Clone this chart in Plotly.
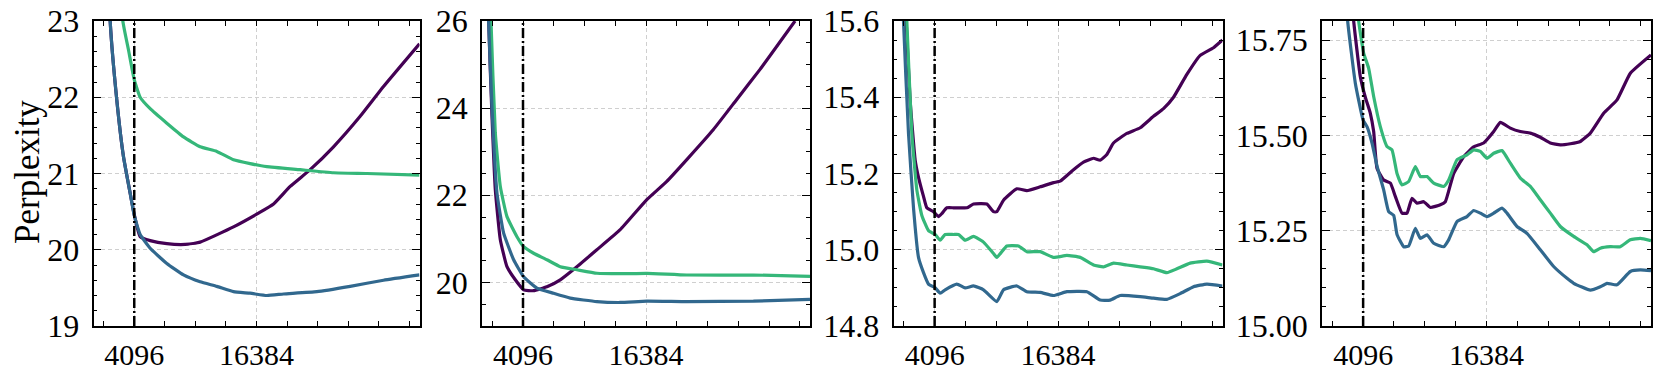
import plotly.graph_objects as go

# ---------------- data ----------------
# Panel 1
p1_purple_x = [1024, 1675, 2345, 3015, 3686, 4096, 4690, 5696, 7371, 9214, 10720, 14072, 16585, 18100, 19767, 21779, 24124, 26805, 29150, 32768]
p1_purple_y = [26.0, 23.0, 21.96, 21.22, 20.74, 20.46, 20.17, 20.12, 20.08, 20.07, 20.1, 20.3, 20.48, 20.6, 20.83, 21.05, 21.35, 21.75, 22.14, 22.7]
p1_blue_x = [1024, 1675, 2345, 3015, 3686, 4096, 4690, 5696, 7371, 9046, 10720, 12397, 14072, 15747, 17422, 19097, 22448, 25798, 29150, 32768]
p1_blue_y = [26.0, 23.0, 21.96, 21.22, 20.74, 20.45, 20.2, 20.02, 19.82, 19.67, 19.58, 19.52, 19.45, 19.43, 19.4, 19.42, 19.45, 19.52, 19.6, 19.67]
p1_green_x = [2000, 2948, 3518, 4096, 4690, 5696, 7371, 9046, 10720, 12397, 14072, 15747, 17422, 20773, 24124, 27475, 32768]
p1_green_y = [25.0, 23.0, 22.62, 22.23, 22.0, 21.85, 21.66, 21.48, 21.35, 21.29, 21.18, 21.13, 21.09, 21.05, 21.01, 21.0, 20.98]

# Panel 2
p2_purple_x = [300, 665, 1000, 1330, 1830, 2495, 3327, 4158, 5156, 6487, 7818, 9481, 11477, 13806, 16467, 18463, 20459, 23121, 25450, 27777, 31271]
p2_purple_y = [32.0, 26.0, 23.81, 22.13, 20.98, 20.36, 20.06, 19.83, 19.81, 19.9, 20.06, 20.36, 20.75, 21.21, 21.9, 22.32, 22.82, 23.51, 24.2, 24.89, 26.0]
p2_blue_x = [300, 665, 1000, 1497, 2162, 3160, 4158, 5489, 7152, 8815, 11477, 13806, 16467, 20459, 27112, 32768]
p2_blue_y = [32.0, 26.0, 24.0, 22.05, 21.13, 20.52, 20.13, 19.87, 19.75, 19.64, 19.56, 19.54, 19.57, 19.56, 19.57, 19.61]
p2_green_x = [400, 898, 1330, 1830, 2495, 3493, 4158, 5156, 6487, 7818, 9481, 11477, 13806, 16467, 20459, 27112, 32768]
p2_green_y = [32.0, 26.0, 23.43, 22.2, 21.51, 21.05, 20.82, 20.67, 20.52, 20.36, 20.29, 20.21, 20.2, 20.21, 20.17, 20.17, 20.14]

# Panel 3
p3_purple_x = [600, 1262, 1660, 2158, 2490, 2988, 3320, 3984, 4482, 4814, 5312, 5976, 6640, 7304, 7968, 9296, 9960, 10292, 10956, 12285, 13280, 14610, 15938, 16600, 17928, 18924, 19920, 20584, 21248, 21912, 23240, 24568, 25897, 26893, 27890, 29218, 30547, 31875, 32768]
p3_purple_y = [16.2, 15.6, 15.39, 15.235, 15.19, 15.14, 15.11, 15.10, 15.087, 15.095, 15.11, 15.11, 15.11, 15.11, 15.12, 15.12, 15.10, 15.10, 15.13, 15.16, 15.155, 15.165, 15.176, 15.18, 15.21, 15.23, 15.24, 15.235, 15.25, 15.28, 15.305, 15.32, 15.35, 15.37, 15.40, 15.46, 15.51, 15.53, 15.55]
p3_green_x = [600, 1328, 1826, 2324, 2822, 3486, 4150, 4648, 5146, 5976, 6474, 7138, 7968, 8964, 9960, 10292, 11288, 12450, 13280, 14610, 15938, 17266, 18594, 19920, 20916, 21912, 23240, 24572, 25900, 27226, 28222, 29550, 31210, 32768]
p3_green_y = [16.2, 15.6, 15.305, 15.157, 15.09, 15.05, 15.04, 15.025, 15.04, 15.04, 15.04, 15.025, 15.035, 15.02, 14.99, 14.98, 15.01, 15.01, 14.995, 14.995, 14.98, 14.985, 14.98, 14.96, 14.955, 14.965, 14.96, 14.955, 14.95, 14.94, 14.95, 14.965, 14.97, 14.96]
p3_blue_x = [500, 996, 1494, 1992, 2490, 2988, 3486, 4150, 4648, 5146, 6308, 7138, 7968, 8964, 10292, 10956, 12285, 13280, 14610, 15938, 17266, 19256, 20584, 21580, 22576, 24568, 25898, 27226, 28554, 29882, 31212, 32768]
p3_blue_y = [16.2, 15.6, 15.305, 15.11, 14.98, 14.94, 14.91, 14.90, 14.886, 14.895, 14.91, 14.90, 14.905, 14.895, 14.864, 14.895, 14.905, 14.89, 14.888, 14.88, 14.89, 14.89, 14.868, 14.868, 14.88, 14.877, 14.873, 14.87, 14.885, 14.903, 14.91, 14.905]

# Panel 4
p4_blue_x = [1500, 2556, 3320, 4096, 4482, 4980, 5477, 6142, 6640, 7138, 7470, 8134, 8632, 9296, 9794, 10458, 11122, 12118, 12616, 13446, 14442, 15106, 15770, 16434, 17100, 17928, 18426, 19422, 20418, 21744, 23072, 24404, 25068, 26728, 27724, 28384, 29382, 30712, 31708, 32768]
p4_blue_y = [16.2, 15.80, 15.637, 15.54, 15.523, 15.48, 15.42, 15.357, 15.30, 15.29, 15.24, 15.208, 15.21, 15.256, 15.23, 15.239, 15.217, 15.208, 15.226, 15.274, 15.287, 15.303, 15.296, 15.287, 15.296, 15.309, 15.296, 15.261, 15.243, 15.2, 15.156, 15.125, 15.112, 15.094, 15.103, 15.112, 15.108, 15.143, 15.147, 15.145]
p4_purple_x = [2000, 3154, 3818, 4316, 4814, 5146, 5477, 6142, 6806, 7304, 7968, 8466, 8964, 9462, 10126, 10790, 11786, 12284, 13114, 14110, 15106, 16102, 17100, 17764, 18758, 19754, 20750, 21746, 22742, 23738, 24734, 25730, 26726, 28054, 29382, 30710, 32768]
p4_purple_y = [16.2, 15.80, 15.654, 15.60, 15.558, 15.51, 15.414, 15.383, 15.375, 15.34, 15.296, 15.296, 15.335, 15.322, 15.326, 15.311, 15.318, 15.326, 15.40, 15.444, 15.47, 15.48, 15.51, 15.534, 15.519, 15.51, 15.506, 15.495, 15.48, 15.475, 15.478, 15.484, 15.506, 15.558, 15.593, 15.663, 15.711]
p4_green_x = [2500, 3652, 4150, 4648, 5146, 5808, 6474, 6972, 7470, 7968, 8632, 9296, 9794, 10458, 11122, 12118, 12616, 13446, 14442, 15106, 15770, 16434, 17100, 17928, 18758, 19754, 20750, 21744, 22740, 23737, 25066, 26395, 27060, 27721, 28718, 29714, 30710, 31705, 32768]
p4_green_y = [16.2, 15.80, 15.716, 15.676, 15.602, 15.523, 15.471, 15.462, 15.40, 15.37, 15.379, 15.418, 15.392, 15.392, 15.375, 15.366, 15.383, 15.436, 15.449, 15.462, 15.458, 15.44, 15.453, 15.46, 15.427, 15.388, 15.366, 15.331, 15.296, 15.261, 15.235, 15.213, 15.195, 15.204, 15.208, 15.208, 15.226, 15.23, 15.224]

context_len = 4096
x_tick_vals = [4096, 16384]
x_tick_text = ["4096", "16384"]
x_range = [0, 32768]
y_ranges = [[19, 23], [19, 26], [14.8, 15.6], [15.0, 15.8]]
y_tick0 = [19, 20, 14.8, 15.0]
y_dticks = [1, 2, 0.2, 0.25]
y_minor = [0.2, 0.5, 0.05, 0.05]
y_formats = ["d", "d", ".1f", ".2f"]
y_title = "Perplexity"

PURPLE = "#440154"
BLUE = "#31688e"
GREEN = "#35b779"

panels = [
    [(p1_purple_x, p1_purple_y, PURPLE), (p1_green_x, p1_green_y, GREEN), (p1_blue_x, p1_blue_y, BLUE)],
    [(p2_purple_x, p2_purple_y, PURPLE), (p2_green_x, p2_green_y, GREEN), (p2_blue_x, p2_blue_y, BLUE)],
    [(p3_purple_x, p3_purple_y, PURPLE), (p3_green_x, p3_green_y, GREEN), (p3_blue_x, p3_blue_y, BLUE)],
    [(p4_purple_x, p4_purple_y, PURPLE), (p4_green_x, p4_green_y, GREEN), (p4_blue_x, p4_blue_y, BLUE)],
]

W, H = 1661, 375
x_domains_px = [(93.5, 419.5), (482, 810), (893.5, 1222.5), (1322, 1651)]
y_dom = [(H - 326) / H, (H - 21) / H]

FONT = "Liberation Serif"
FS = 32
FSX = 30
fig = go.Figure()
layout = dict(
    width=W, height=H,
    margin=dict(l=0, r=0, t=0, b=0, pad=0, autoexpand=False),
    paper_bgcolor="white", plot_bgcolor="white",
    showlegend=False,
    font=dict(family=FONT, size=FS, color="black"),
)

x_minor_vals = [1024 + 3072 * k for k in range(11)]

for i, series in enumerate(panels):
    xa = "x" if i == 0 else f"x{i+1}"
    ya = "y" if i == 0 else f"y{i+1}"
    for sx, sy, col in series:
        fig.add_trace(go.Scatter(x=sx, y=sy, mode="lines", xaxis=xa, yaxis=ya,
                                 line=dict(color=col, width=3.2, shape="spline", smoothing=0.4)))
    # vertical context-length marker
    fig.add_trace(go.Scatter(x=[context_len, context_len], y=y_ranges[i], mode="lines",
                             xaxis=xa, yaxis=ya,
                             line=dict(color="black", width=2.5, dash="10px,3px,2px,3px")))
    xkey = "xaxis" if i == 0 else f"xaxis{i+1}"
    ykey = "yaxis" if i == 0 else f"yaxis{i+1}"
    d0, d1 = x_domains_px[i]
    layout[xkey] = dict(
        domain=[d0 / W, d1 / W], anchor=ya, range=x_range, automargin=False,
        tickmode="array", tickvals=x_tick_vals, ticktext=x_tick_text,
        ticks="inside", ticklen=5, tickwidth=1.3, tickcolor="black",
        showline=True, linecolor="black", linewidth=1.7, mirror="ticks",
        showgrid=True, gridcolor="#cfcfcf", gridwidth=1, griddash="4px,3px",
        zeroline=False, ticklabelstandoff=1,
        tickfont=dict(family=FONT, size=FSX, color="black"),
        minor=dict(tickmode="array", tickvals=x_minor_vals, ticks="inside",
                   ticklen=5, tickwidth=1.3, tickcolor="black", showgrid=False),
    )
    layout[ykey] = dict(
        domain=y_dom, anchor=xa, range=y_ranges[i], automargin=False,
        tick0=y_tick0[i], dtick=y_dticks[i], tickformat=y_formats[i],
        ticks="inside", ticklen=8, tickwidth=1.3, tickcolor="black",
        showline=True, linecolor="black", linewidth=1.7, mirror="ticks",
        showgrid=True, gridcolor="#cfcfcf", gridwidth=1, griddash="4px,3px",
        zeroline=False, ticklabelstandoff=6,
        tickfont=dict(family=FONT, size=FS, color="black"),
        minor=dict(dtick=y_minor[i], tick0=y_ranges[i][0], ticks="inside",
                   ticklen=4, tickwidth=1.3, tickcolor="black", showgrid=False),
    )

fig.update_layout(**layout)
fig.add_annotation(text=y_title, xref="paper", yref="paper", x=27 / W, y=(H - 172) / H,
                   textangle=-90, showarrow=False, xanchor="center", yanchor="middle",
                   font=dict(family=FONT, size=35, color="black"))

fig.write_html("out.html", config={"displayModeBar": False},
               post_script="document.body.style.margin='0';document.body.style.overflow='hidden';")
